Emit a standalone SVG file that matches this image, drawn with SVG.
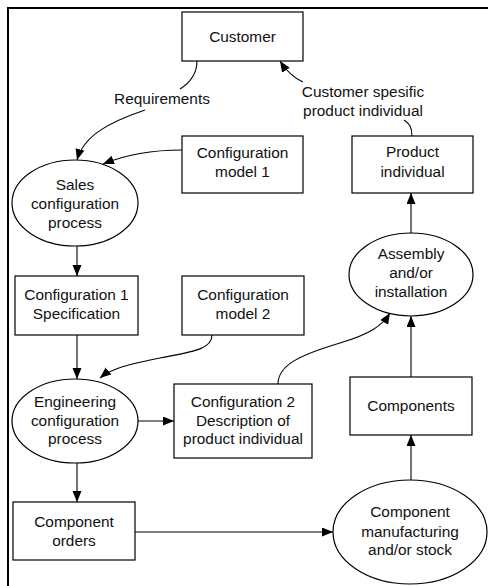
<svg xmlns="http://www.w3.org/2000/svg" width="488" height="586" viewBox="0 0 488 586">
<style>
.box{fill:#fff;stroke:#000;stroke-width:1.2}
.ell{fill:#fff;stroke:#000;stroke-width:1.2}
.t{font-family:"Liberation Sans",Arial,sans-serif;font-size:15.4px;fill:#111;text-anchor:middle}
.c{fill:none;stroke:#000;stroke-width:1.1}
.frame{fill:none;stroke:#000;stroke-width:2}
</style>
<defs>
<marker id="ah" markerUnits="userSpaceOnUse" markerWidth="12" markerHeight="10" refX="11" refY="4.5" orient="auto">
<path d="M0,0 L11,4.5 L0,9 z" fill="#000"/>
</marker>
</defs>
<rect width="488" height="586" fill="#fff"/>
<path class="frame" d="M8,586 V8 H488"/>

<g id="customer">
<rect class="box" x="182" y="12" width="121" height="49"/>
<text class="t" x="242.5" y="42">Customer</text>
</g>
<g id="config-model-1">
<rect class="box" x="182" y="136" width="121" height="57"/>
<text class="t" x="242.5" y="158">Configuration</text>
<text class="t" x="242.5" y="177">model 1</text>
</g>
<g id="product-individual">
<rect class="box" x="352" y="136" width="121" height="57"/>
<text class="t" x="412.5" y="157">Product</text>
<text class="t" x="412.5" y="177">individual</text>
</g>
<g id="sales-configuration-process">
<ellipse class="ell" cx="75" cy="203" rx="63" ry="43"/>
<text class="t" x="75" y="190">Sales</text>
<text class="t" x="75" y="209">configuration</text>
<text class="t" x="75" y="228">process</text>
</g>
<g id="configuration-1">
<rect class="box" x="15" y="276" width="123" height="59"/>
<text class="t" x="76.5" y="300">Configuration 1</text>
<text class="t" x="76.5" y="319">Specification</text>
</g>
<g id="config-model-2">
<rect class="box" x="182" y="276" width="122" height="59"/>
<text class="t" x="243" y="300">Configuration</text>
<text class="t" x="243" y="319">model 2</text>
</g>
<g id="assembly">
<ellipse class="ell" cx="411" cy="274.5" rx="62" ry="41.5"/>
<text class="t" x="411" y="259">Assembly</text>
<text class="t" x="411" y="278">and/or</text>
<text class="t" x="411" y="297">installation</text>
</g>
<g id="engineering-configuration-process">
<ellipse class="ell" cx="75" cy="421" rx="63" ry="42"/>
<text class="t" x="75" y="407">Engineering</text>
<text class="t" x="75" y="426">configuration</text>
<text class="t" x="75" y="444">process</text>
</g>
<g id="configuration-2">
<rect class="box" x="174" y="384" width="138" height="74"/>
<text class="t" x="243" y="407">Configuration 2</text>
<text class="t" x="243" y="426">Description of</text>
<text class="t" x="243" y="444">product individual</text>
</g>
<g id="components">
<rect class="box" x="350" y="377" width="122" height="58"/>
<text class="t" x="411" y="411">Components</text>
</g>
<g id="component-orders">
<rect class="box" x="13" y="502" width="122" height="58"/>
<text class="t" x="74" y="527">Component</text>
<text class="t" x="74" y="546">orders</text>
</g>
<g id="component-manufacturing">
<ellipse class="ell" cx="410" cy="532" rx="77" ry="52"/>
<text class="t" x="410" y="517">Component</text>
<text class="t" x="410" y="537">manufacturing</text>
<text class="t" x="410" y="555">and/or stock</text>
</g>

<g id="connectors">
<path class="c" d="M197,61 C197,72 191,82 180,89"/>
<path class="c" d="M145,110 C110,122 84,135 77,160" marker-end="url(#ah)"/>
<text class="t" x="162" y="104">Requirements</text>
<path class="c" d="M182,150 C150,150 125,155 103,164" marker-end="url(#ah)"/>
<path class="c" d="M412,136 C412,128 410,124 404,120"/>
<path class="c" d="M303,82 C294,78 287,72 280,61" marker-end="url(#ah)"/>
<text class="t" x="363" y="97">Customer spesific</text>
<text class="t" x="363" y="116">product individual</text>
<path class="c" d="M77,246 V276" marker-end="url(#ah)"/>
<path class="c" d="M77,335 V379" marker-end="url(#ah)"/>
<path class="c" d="M212,335 C212,350 190,352 160,358 C130,364 112,368 100,378" marker-end="url(#ah)"/>
<path class="c" d="M278,384 C278,365 300,355 340,343 C370,334 382,326 390,313" marker-end="url(#ah)"/>
<path class="c" d="M138,421 H174" marker-end="url(#ah)"/>
<path class="c" d="M77,463 V502" marker-end="url(#ah)"/>
<path class="c" d="M135,532 H333" marker-end="url(#ah)"/>
<path class="c" d="M411,480 V435" marker-end="url(#ah)"/>
<path class="c" d="M411,377 V316" marker-end="url(#ah)"/>
<path class="c" d="M411,233 V193" marker-end="url(#ah)"/>
</g>
</svg>
